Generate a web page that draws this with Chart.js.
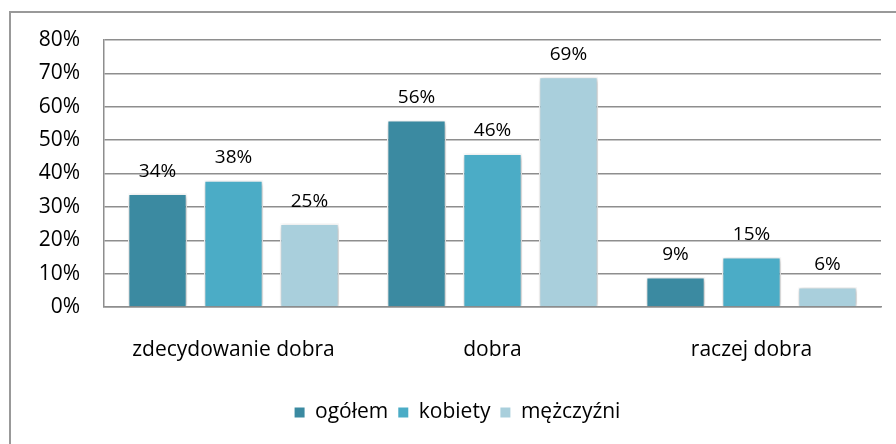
<!DOCTYPE html>
<html>
<head>
<meta charset="utf-8">
<script src="https://cdn.jsdelivr.net/npm/chart.js@4/dist/chart.umd.min.js"></script>
<style>
  html, body { margin: 0; padding: 0; background: #ffffff; }
  #wrap { width: 896px; height: 444px; }
</style>
</head>
<body>
<div id="wrap"><canvas id="c" width="896" height="444"></canvas></div>
<script>
const categories = ['zdecydowanie dobra', 'dobra', 'raczej dobra'];
const seriesNames = ['ogółem', 'kobiety', 'mężczyźni'];
const ogolem = [34, 56, 9];
const kobiety = [38, 46, 15];
const mezczyzni = [25, 69, 6];
const colors = ['#3B8AA1', '#4BACC6', '#A9CFDC'];
const FONT = '"Open Sans", "DejaVu Sans", sans-serif';

const borderPlugin = {
  id: 'outerBorder',
  beforeDraw(chart) {
    const ctx = chart.ctx;
    ctx.save();
    ctx.strokeStyle = '#999999';
    ctx.lineWidth = 2;
    ctx.beginPath();
    ctx.moveTo(10, 444);
    ctx.lineTo(10, 12);
    ctx.lineTo(897, 12);
    ctx.stroke();
    ctx.restore();
  }
};

const shadowPlugin = {
  id: 'barShadow',
  beforeDatasetsDraw(chart) {
    const ctx = chart.ctx;
    ctx.save();
    ctx.shadowColor = 'rgba(0,0,0,0.28)';
    ctx.shadowBlur = 5;
    ctx.shadowOffsetX = 1;
    ctx.shadowOffsetY = 1;
  },
  afterDatasetsDraw(chart) {
    chart.ctx.restore();
  }
};

const labelPlugin = {
  id: 'valueLabels',
  afterDatasetsDraw(chart) {
    const ctx = chart.ctx;
    ctx.save();
    ctx.font = '19px ' + FONT;
    ctx.fillStyle = '#000000';
    ctx.textAlign = 'center';
    ctx.textBaseline = 'alphabetic';
    chart.data.datasets.forEach((ds, i) => {
      const meta = chart.getDatasetMeta(i);
      meta.data.forEach((bar, j) => {
        ctx.fillText(ds.data[j] + '%', bar.x, bar.y - 17);
      });
    });
    ctx.restore();
  }
};

const values = [ogolem, kobiety, mezczyzni];

new Chart(document.getElementById('c'), {
  type: 'bar',
  data: {
    labels: categories,
    datasets: seriesNames.map((name, i) => ({
      label: name,
      data: values[i],
      backgroundColor: colors[i],
      borderColor: '#ffffff',
      borderWidth: 1.5,
      categoryPercentage: 0.88,
      barPercentage: 0.78
    }))
  },
  options: {
    responsive: false,
    animation: false,
    devicePixelRatio: 1,
    layout: { padding: { left: 34, right: 15, top: 40, bottom: 11 } },
    plugins: {
      tooltip: { enabled: false },
      legend: {
        position: 'bottom',
        labels: {
          font: { family: FONT, size: 21 },
          color: '#000000',
          boxWidth: 10,
          boxHeight: 10,
          padding: 10,
          generateLabels(chart) {
            return chart.data.datasets.map((ds, i) => ({
              text: ds.label,
              fillStyle: ds.backgroundColor,
              strokeStyle: ds.backgroundColor,
              lineWidth: 0,
              datasetIndex: i,
              hidden: false
            }));
          }
        }
      }
    },
    scales: {
      x: {
        grid: { display: false, drawTicks: false },
        border: { display: true, color: '#8e8e8e', width: 1.5 },
        ticks: { font: { family: FONT, size: 21 }, color: '#000000', padding: 30 },
        afterFit(scale) {
          const lh = scale.chart.legend ? scale.chart.legend.height : 46;
          scale.height = 444 - 307 - lh - 11;
        }
      },
      y: {
        min: 0,
        max: 80,
        ticks: {
          stepSize: 10,
          font: { family: FONT, size: 21 },
          color: '#000000',
          padding: 24,
          callback: v => v + '%'
        },
        grid: { color: '#8e8e8e', lineWidth: 1.5, drawTicks: false },
        border: { display: true, color: '#8e8e8e', width: 1.5 },
        afterFit(scale) { scale.width = 70; }
      }
    }
  },
  plugins: [borderPlugin, shadowPlugin, labelPlugin]
});
</script>
</body>
</html>
